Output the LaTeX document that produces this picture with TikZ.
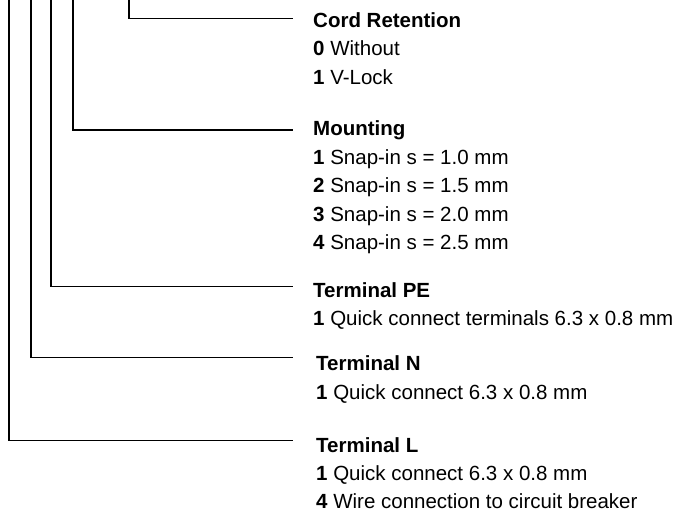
\documentclass[tikz,border=0pt]{standalone}
\usepackage{fontspec}
\setmainfont{Liberation Sans}
\tikzset{
  head/.style={anchor=base west, inner xsep=20pt, inner ysep=0pt, text height=0.72em, text depth=0pt, font=\bfseries},
  opt/.style={anchor=base west, inner sep=0pt},
  lead/.style={line width=1.1pt, black},
}
\begin{document}
\fontsize{20.5}{24}\selectfont
\begin{tikzpicture}[x=1pt, y=-1pt]
\useasboundingbox (0,0) rectangle (689,512);
%top ends of the lead lines
\coordinate (T1) at (9,0);
\coordinate (T2) at (31,0);
\coordinate (T3) at (51,0);
\coordinate (T4) at (73,0);
\coordinate (T5) at (129,0);
%cord retention
\node[head] (cord) at (293,27) {Cord Retention};
\node[opt] (cord0) at (313,55.5) {\textbf{0} Without};
\node[opt] (cord1) at (313,84) {\textbf{1} V-Lock};
%mounting
\node[head] (mount) at (293,135) {Mounting};
\node[opt] (mount1) at (313,164) {\textbf{1} Snap-in s = 1.0 mm};
\node[opt] (mount2) at (313,192.5) {\textbf{2} Snap-in s = 1.5 mm};
\node[opt] (mount3) at (313,221) {\textbf{3} Snap-in s = 2.0 mm};
\node[opt] (mount4) at (313,249.5) {\textbf{4} Snap-in s = 2.5 mm};
%terminal PE
\node[head] (termPE) at (293,297.5) {Terminal PE};
\node[opt] (termPE1) at (313,325.5) {\textbf{1} Quick connect terminals 6.3 x 0.8 mm};
%terminal N
\node[head, inner xsep=23pt] (termN) at (293,370) {Terminal N};
\node[opt] (termN1) at (316,399) {\textbf{1} Quick connect 6.3 x 0.8 mm};
%terminal L
\node[head, inner xsep=23pt] (termL) at (293,452) {Terminal L};
\node[opt] (termL1) at (316,480) {\textbf{1} Quick connect 6.3 x 0.8 mm};
\node[opt] (termL4) at (316,508) {\textbf{4} Wire connection to circuit breaker};
%lead lines
\draw[lead] (T5) |- ([yshift=1.3pt]cord.west);
\draw[lead] (T4) |- ([yshift=-2.4pt]mount.west);
\draw[lead] (T3) |- ([yshift=3.4pt]termPE.west);
\draw[lead] (T2) |- ([yshift=4.9pt]termN.west);
\draw[lead] (T1) |- ([yshift=3.9pt]termL.west);
\end{tikzpicture}
\end{document}
